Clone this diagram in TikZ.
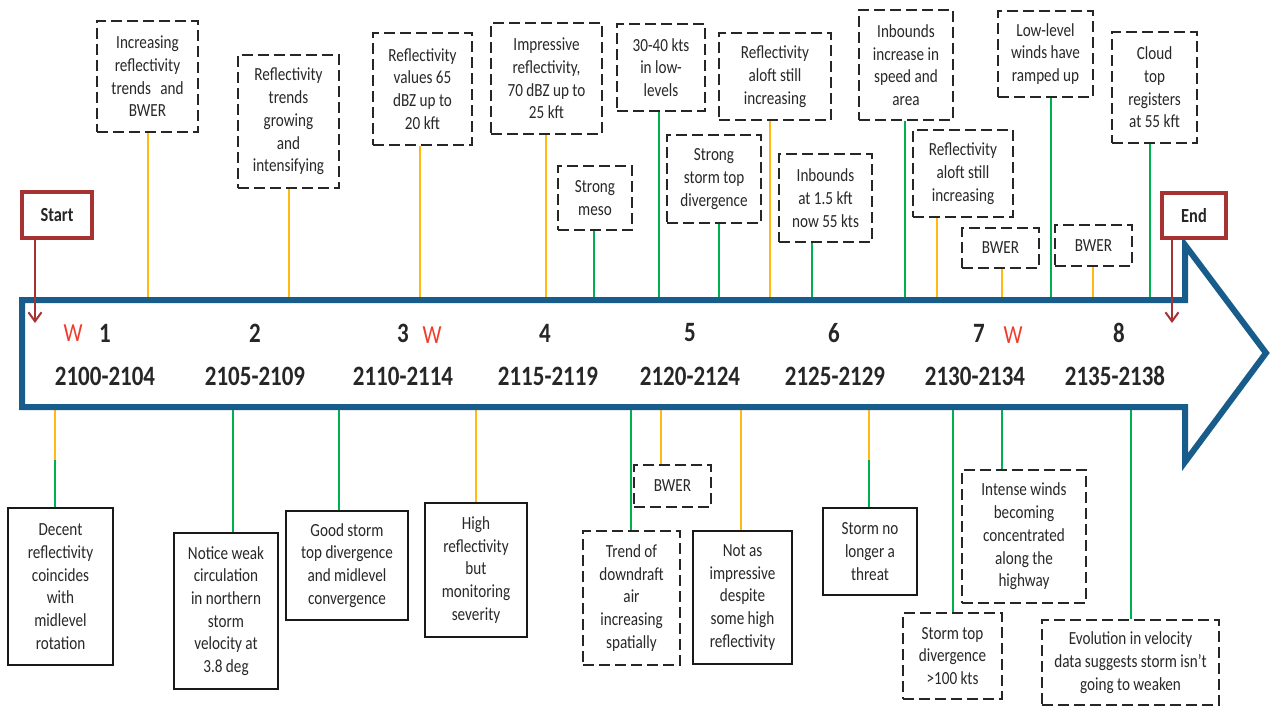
\documentclass[tikz,border=0pt]{standalone}
\usepackage{fontspec}
\setmainfont{Carlito}[FakeStretch=0.82]
\usetikzlibrary{arrows.meta}
\definecolor{tlblue}{RGB}{24,92,140}
\definecolor{tlred}{RGB}{166,50,50}
\definecolor{wred}{RGB}{240,60,40}
\definecolor{corange}{RGB}{255,184,20}
\definecolor{cgreen}{RGB}{0,176,80}
\definecolor{txt}{RGB}{40,40,40}
\tikzset{
  dbox/.style={draw=black!85, line width=2.3pt, dash pattern=on 11pt off 5pt, align=center,
    font=\fontsize{18.5}{22.7}\selectfont, text=txt, inner sep=0pt},
  sbox/.style={draw=black!90, line width=2pt, align=center,
    font=\fontsize{18.5}{22.7}\selectfont, text=txt, inner sep=0pt},
  oline/.style={draw=corange, line width=2.8pt},
  gline/.style={draw=cgreen, line width=2.8pt},
  sebox/.style={draw=tlred, line width=3.8pt, font=\fontsize{20}{24}\selectfont\bfseries, text=black!85, inner sep=0pt},
  searrow/.style={draw=tlred, line width=2pt, -{Straight Barb[length=9pt,width=13pt]}},
  num/.style={font=\fontsize{28}{30}\selectfont\bfseries, text=black!85},
  wlab/.style={font=\fontsize{26}{30}\selectfont, text=wred},
}
\begin{document}
\begin{tikzpicture}[x=1pt,y=-1pt]
\useasboundingbox[fill=white] (0,0) rectangle (1276,706);

% ---------- top boxes ----------
\node[dbox, minimum width=101pt, minimum height=111pt] (t1) at (147.5,76.5) {Increasing\\reflectivity\\trends\enspace and\\BWER};
\node[dbox, minimum width=101pt, minimum height=133pt] (t2) at (288.5,121.5) {Reflectivity\\trends\\growing\\and\\intensifying};
\node[dbox, minimum width=99pt, minimum height=112pt] (t3) at (422.5,89) {Reflectivity\\values 65\\dBZ up to\\20 kft};
\node[dbox, minimum width=111pt, minimum height=111pt] (t4) at (546.5,78.5) {Impressive\\reflectivity,\\70 dBZ up to\\25 kft};
\node[dbox, minimum width=74pt, minimum height=64pt] (t5) at (595,198) {Strong\\meso};
\node[dbox, minimum width=88pt, minimum height=87pt] (t6) at (661,67.5) {30-40 kts\\in low-\\levels};
\node[dbox, minimum width=94pt, minimum height=88pt] (t7) at (714,179) {Strong\\storm top\\divergence};
\node[dbox, minimum width=112pt, minimum height=87pt] (t8) at (775,76.5) {Reflectivity\\aloft still\\increasing};
\node[dbox, minimum width=93pt, minimum height=88pt] (t9) at (825.5,198) {Inbounds\\at 1.5 kft\\now 55 kts};
\node[dbox, minimum width=94pt, minimum height=110pt] (t10) at (906,65) {Inbounds\\increase in\\speed and\\area};
\node[dbox, minimum width=100pt, minimum height=87pt] (t11) at (963,173.5) {Reflectivity\\aloft still\\increasing};
\node[dbox, minimum width=77pt, minimum height=40pt] (t12) at (1000.5,248) {BWER};
\node[dbox, minimum width=95pt, minimum height=86pt] (t13) at (1045.5,54) {Low-level\\winds have\\ramped up};
\node[dbox, minimum width=77pt, minimum height=41pt] (t14) at (1093.5,245.5) {BWER};
\node[dbox, minimum width=85pt, minimum height=111pt] (t15) at (1154.5,87.5) {Cloud\\top\\registers\\at 55 kft};

% ---------- bottom boxes ----------
\node[sbox, minimum width=105pt, minimum height=157pt] (b1) at (60.5,586.5) {Decent\\reflectivity\\coincides\\with\\midlevel\\rotation};
\node[sbox, minimum width=104pt, minimum height=156pt] (b2) at (226,611) {Notice weak\\circulation\\in northern\\storm\\velocity at\\3.8 deg};
\node[sbox, minimum width=122pt, minimum height=109pt] (b3) at (347,565.5) {Good storm\\top divergence\\and midlevel\\convergence};
\node[sbox, minimum width=102pt, minimum height=134pt] (b4) at (476,570) {High\\reflectivity\\but\\monitoring\\severity};
\node[dbox, minimum width=77pt, minimum height=42pt] (b5) at (672.5,486) {BWER};
\node[dbox, minimum width=97pt, minimum height=134pt] (b6) at (631.5,598) {Trend of\\downdraft\\air\\increasing\\spatially};
\node[sbox, minimum width=99pt, minimum height=133pt] (b7) at (742.5,597.5) {Not as\\impressive\\despite\\some high\\reflectivity};
\node[sbox, minimum width=94pt, minimum height=87pt] (b8) at (870,551.5) {Storm no\\longer a\\threat};
\node[dbox, minimum width=99pt, minimum height=86pt] (b9) at (952.5,656) {Storm top\\divergence\\>100 kts};
\node[dbox, minimum width=124pt, minimum height=133pt] (b10) at (1024,536.5) {Intense winds\\becoming\\concentrated\\along the\\highway};
\node[dbox, minimum width=177pt, minimum height=85pt] (b11) at (1130.5,662.5) {Evolution in velocity\\data suggests storm isn’t\\going to weaken};

% ---------- connector ends on the arrow ----------
\foreach \n/\x in {1/148,2/289,3/420,4/546,5/594,6/659,7/719,8/770,9/812,10/905,11/937,12/1002,13/1051,14/1093,15/1150}
  {\coordinate (e\n) at (\x,300);}
\foreach \n/\x in {1/55,2/233,3/339,4/476,5/661,6/631,7/741,8/869,9/953,10/1002,11/1131}
  {\coordinate (f\n) at (\x,407);}
\coordinate (f1m) at (55,460);
\coordinate (f8m) at (869,460);

% top connectors
\foreach \n in {1,2,3,4,8,11,12,14} {\draw[oline] (e\n |- t\n.south) -- (e\n);}
\foreach \n in {5,6,7,9,10,13,15} {\draw[gline] (e\n |- t\n.south) -- (e\n);}
% bottom connectors
\foreach \n in {4,5,7} {\draw[oline] (f\n) -- (f\n |- b\n.north);}
\foreach \n in {2,3,6,9,10,11} {\draw[gline] (f\n) -- (f\n |- b\n.north);}
\draw[oline] (f1) -- (f1m);
\draw[gline] (f1m) -- (f1m |- b1.north);
\draw[oline] (f8) -- (f8m);
\draw[gline] (f8m) -- (f8m |- b8.north);

% ---------- timeline arrow ----------
\draw[tlblue, line width=6pt, line join=miter, fill=white]
  (22,300) -- (1185,300) -- (1185,245) -- (1266,353) -- (1185,462) -- (1185,407) -- (22,407) -- cycle;

% ---------- labels in the arrow ----------
\node[wlab] (w1) at (73,333) {W};
\node[num] (n1) at (105,333) {1};
\node[num] (d1) at (105,376) {2100-2104};
\node[num] (n2) at (255,333) {2};
\node[num] (d2) at (255,376) {2105-2109};
\node[num] (n3) at (403,333) {3};
\node[wlab] (w3) at (432,335) {W};
\node[num] (d3) at (403,376) {2110-2114};
\node[num] (n4) at (545,333) {4};
\node[num] (d4) at (548,376) {2115-2119};
\node[num] (n5) at (690,333) {5};
\node[num] (d5) at (690,376) {2120-2124};
\node[num] (n6) at (834,333) {6};
\node[num] (d6) at (835,376) {2125-2129};
\node[num] (n7) at (979,333) {7};
\node[wlab] (w7) at (1013,335) {W};
\node[num] (d7) at (975,376) {2130-2134};
\node[num] (n8) at (1119,333) {8};
\node[num] (d8) at (1115,376) {2135-2138};

% ---------- start / end ----------
\node[sebox, minimum width=70pt, minimum height=46pt] (start) at (57,215) {Start};
\node[sebox, minimum width=64pt, minimum height=45pt] (end) at (1194,215.5) {End};
\coordinate (sa) at (35,323);
\coordinate (ea) at (1172,323);
\draw[searrow] (sa |- start.south) -- (sa);
\draw[searrow] (ea |- end.south) -- (ea);
\end{tikzpicture}
\end{document}
